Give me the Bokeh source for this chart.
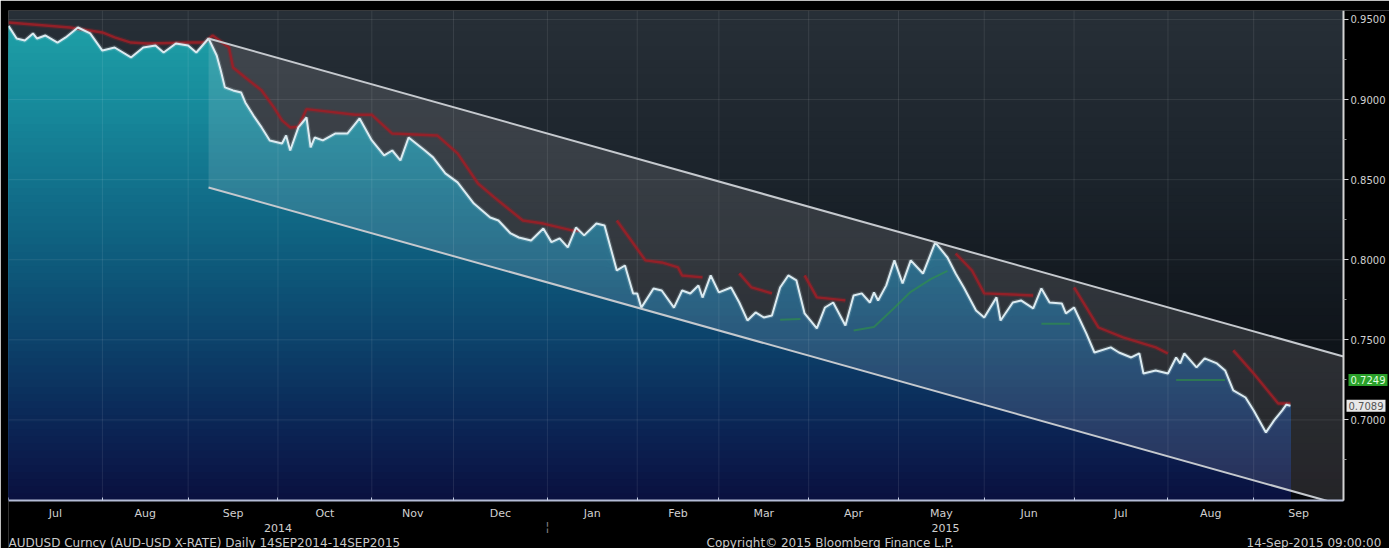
import numpy as np
from bokeh.plotting import figure
from bokeh.models import Range1d, FixedTicker, NumeralTickFormatter, Label
from bokeh.embed import file_html
from bokeh.resources import INLINE

ORIGIN = "2014-07-01"

# ---------------- data ----------------
price_dates = [
    "2014-07-01", "2014-07-03", "2014-07-07", "2014-07-09", "2014-07-10", "2014-07-14", "2014-07-17",
    "2014-07-21", "2014-07-24", "2014-07-29", "2014-08-01", "2014-08-06", "2014-08-12", "2014-08-15",
    "2014-08-20", "2014-08-22", "2014-08-27", "2014-09-01", "2014-09-03", "2014-09-08", "2014-09-10",
    "2014-09-11", "2014-09-12", "2014-09-16", "2014-09-18", "2014-09-19", "2014-09-23", "2014-09-25",
    "2014-09-29", "2014-10-02", "2014-10-03", "2014-10-06", "2014-10-08", "2014-10-10", "2014-10-13",
    "2014-10-14", "2014-10-16", "2014-10-21", "2014-10-24", "2014-10-29", "2014-11-03", "2014-11-06",
    "2014-11-10", "2014-11-12", "2014-11-14", "2014-11-20", "2014-11-24", "2014-11-27", "2014-12-02",
    "2014-12-08", "2014-12-10", "2014-12-12", "2014-12-16", "2014-12-19", "2014-12-23", "2014-12-26",
    "2014-12-31", "2015-01-02", "2015-01-06", "2015-01-08", "2015-01-12", "2015-01-14", "2015-01-19",
    "2015-01-21", "2015-01-26", "2015-01-28", "2015-01-30", "2015-02-02", "2015-02-03", "2015-02-06",
    "2015-02-10", "2015-02-13", "2015-02-17", "2015-02-19", "2015-02-23", "2015-02-24", "2015-02-26",
    "2015-03-02", "2015-03-05", "2015-03-09", "2015-03-11", "2015-03-13", "2015-03-17", "2015-03-19",
    "2015-03-23", "2015-03-25", "2015-03-27", "2015-03-31", "2015-04-03", "2015-04-07", "2015-04-09",
    "2015-04-14", "2015-04-16", "2015-04-20", "2015-04-22", "2015-04-23", "2015-04-24", "2015-04-28",
    "2015-04-30", "2015-05-04", "2015-05-06", "2015-05-11", "2015-05-14", "2015-05-19", "2015-05-21",
    "2015-05-25", "2015-05-28", "2015-06-01", "2015-06-04", "2015-06-05", "2015-06-10", "2015-06-12",
    "2015-06-17", "2015-06-19", "2015-06-23", "2015-06-26", "2015-06-29", "2015-07-01", "2015-07-06",
    "2015-07-08", "2015-07-14", "2015-07-16", "2015-07-21", "2015-07-23", "2015-07-24", "2015-07-29",
    "2015-08-03", "2015-08-05", "2015-08-06", "2015-08-07", "2015-08-12", "2015-08-14", "2015-08-19",
    "2015-08-21", "2015-08-25", "2015-08-28", "2015-09-01", "2015-09-04", "2015-09-08", "2015-09-10",
    "2015-09-11", "2015-09-14",
]
price_values = [
    0.9460, 0.9381, 0.9369, 0.9413, 0.9381, 0.9400, 0.9356,
    0.9388, 0.9450, 0.9413, 0.9306, 0.9325, 0.9263, 0.9325,
    0.9338, 0.9294, 0.9350, 0.9338, 0.9294, 0.9381, 0.9275,
    0.9182, 0.9076, 0.9057, 0.9044, 0.8982, 0.8900, 0.8826,
    0.8745, 0.8726, 0.8776, 0.8682, 0.8826, 0.8888, 0.8701,
    0.8763, 0.8745, 0.8788, 0.8788, 0.8882, 0.8745, 0.8651,
    0.8682, 0.8620, 0.8763, 0.8682, 0.8639, 0.8539, 0.8483,
    0.8351, 0.8308, 0.8264, 0.8245, 0.8164, 0.8139, 0.8120,
    0.8195, 0.8110, 0.8133, 0.8077, 0.8201, 0.8152, 0.8226,
    0.8214, 0.7933, 0.7964, 0.7789, 0.7789, 0.7701, 0.7820,
    0.7808, 0.7701, 0.7808, 0.7789, 0.7839, 0.7764, 0.7902,
    0.7796, 0.7827, 0.7733, 0.7621, 0.7671, 0.7640, 0.7652,
    0.7827, 0.7902, 0.7871, 0.7665, 0.7571, 0.7702, 0.7733,
    0.7590, 0.7777, 0.7790, 0.7733, 0.7796, 0.7746, 0.7840,
    0.7996, 0.7852, 0.7996, 0.7914, 0.8108, 0.8014, 0.7914,
    0.7827, 0.7683, 0.7640, 0.7765, 0.7621, 0.7733, 0.7746,
    0.7696, 0.7821, 0.7733, 0.7727, 0.7665, 0.7702, 0.7540,
    0.7421, 0.7453, 0.7421, 0.7390, 0.7415, 0.7290, 0.7309,
    0.7290, 0.7390, 0.7353, 0.7415, 0.7328, 0.7384, 0.7353,
    0.7309, 0.7184, 0.7140, 0.7059, 0.6922, 0.6997, 0.7060,
    0.7095, 0.7089,
]

# trailing-stop style signal: red above price (down-trend), green below price (up-trend); None = gap
red_dates = [
    "2014-07-01", "2014-07-22", "2014-08-01", "2014-08-06", "2014-08-12", "2014-08-18", "2014-09-02",
    "2014-09-05", "2014-09-09", "2014-09-15", "2014-09-16", "2014-09-19", "2014-09-25", "2014-09-30",
    "2014-10-02", "2014-10-06", "2014-10-08", "2014-10-10", "2014-10-28", "2014-11-03", "2014-11-10",
    "2014-11-25", "2014-12-02", "2014-12-09", "2014-12-15", "2014-12-24", "2014-12-31", "2015-01-09",
    "2015-01-13", "2015-01-20",
    "2015-01-26", "2015-01-29", "2015-02-04", "2015-02-10", "2015-02-16", "2015-02-17", "2015-02-24",
    "2015-03-02",
    "2015-03-09", "2015-03-12", "2015-03-19", "2015-03-25",
    "2015-03-31", "2015-04-03", "2015-04-14", "2015-05-01",
    "2015-05-21", "2015-05-27", "2015-06-01", "2015-06-17", "2015-06-24",
    "2015-07-01", "2015-07-06", "2015-07-09", "2015-07-17", "2015-07-29", "2015-08-03", "2015-08-12",
    "2015-08-25", "2015-09-01", "2015-09-07", "2015-09-09", "2015-09-14",
]
red_values = [
    0.9481, 0.9450, 0.9419, 0.9388, 0.9356, 0.9350, 0.9356,
    0.9356, 0.9400, 0.9325, 0.9200, 0.9138, 0.9057, 0.8951,
    0.8870, 0.8826, 0.8830, 0.8940, 0.8905, 0.8905, 0.8788,
    0.8776, 0.8664, 0.8476, 0.8389, 0.8245, 0.8226, 0.8183,
    0.8183, None,
    0.8245, 0.8139, 0.7996, 0.7983, 0.7952, 0.7902, 0.7890,
    None,
    0.7915, 0.7827, 0.7790, None,
    0.7902, 0.7765, 0.7746, None,
    0.8039, 0.7933, 0.7790, 0.7777, None,
    0.7827, 0.7702, 0.7577, 0.7515, 0.7453, 0.7415, None,
    0.7434, 0.7290, 0.7165, 0.7103, 0.7103,
]
green_dates = [
    "2015-03-23", "2015-03-30", "2015-04-08",
    "2015-04-16", "2015-04-23", "2015-04-30", "2015-05-06", "2015-05-13", "2015-05-19", "2015-06-05",
    "2015-06-19", "2015-06-30", "2015-07-15",
    "2015-08-05", "2015-08-21",
]
green_values = [
    0.7625, 0.7630, None,
    0.7558, 0.7580, 0.7700, 0.7800, 0.7880, 0.7930, None,
    0.7600, 0.7600, None,
    0.7250, 0.7249,
]

month_starts = ["2014-07-01", "2014-08-01", "2014-09-01", "2014-10-01", "2014-11-01", "2014-12-01",
                "2015-01-01", "2015-02-01", "2015-03-01", "2015-04-01", "2015-05-01", "2015-06-01",
                "2015-07-01", "2015-08-01", "2015-09-01", "2015-10-01"]
month_names = ["Jul", "Aug", "Sep", "Oct", "Nov", "Dec", "Jan", "Feb", "Mar", "Apr", "May", "Jun",
               "Jul", "Aug", "Sep"]
year_names = ["2014", "2015"]
year_starts = ["2014-07-01", "2015-01-01", "2015-10-01"]
y_ticks = [0.70, 0.75, 0.80, 0.85, 0.90, 0.95]
y_limits = [0.6497, 0.9556]

channel_anchor_dates = ["2014-09-08", "2015-05-14"]
channel_upper_values = [0.9381, 0.8110]
channel_lower_start = 0.8451
channel_end_date = "2015-10-01"

last_price = 0.7089
last_signal = 0.7249

FOOT_LEFT = "AUDUSD Curncy (AUD-USD X-RATE)  Daily 14SEP2014-14SEP2015"
FOOT_MID = "Copyright\u00a9 2015 Bloomberg Finance L.P."
FOOT_RIGHT = "14-Sep-2015 09:00:00"

# ---------------- layout (pixels) ----------------
W, H = 1389, 548
LEFT, TOP = 8, 10
PLOT_W, PLOT_H = 1335, 490          # chart area inside the frame
FONT = "DejaVu Sans"
FS = "11px"
FS_AX = "10px"
FS_FOOT = "12px"


# ---------------- helpers ----------------
def bd(dates):
    return np.busday_count(ORIGIN, np.array(dates, dtype="datetime64[D]")).astype(float)


def nanify(vals):
    return np.array([np.nan if v is None else v for v in vals], dtype=float)


def hex2rgb(h):
    h = h.lstrip("#")
    return np.array([int(h[i:i + 2], 16) for i in (0, 2, 4)], dtype=float)


def grad(stops, v):
    vs = [s[0] for s in stops]
    cs = [hex2rgb(s[1]) for s in stops]
    rgb = [np.interp(v, vs, [c[k] for c in cs]) for k in range(3)]
    return "#%02x%02x%02x" % tuple(int(round(c)) for c in rgb)


px = bd(price_dates)
py = np.array(price_values)
rx, ry = bd(red_dates), nanify(red_values)
gx, gy = bd(green_dates), nanify(green_values)
mb = bd(month_starts)
mids = (mb[:-1] + mb[1:]) / 2
yb = bd(year_starts)
ymin, ymax = y_limits
x0, x1 = mb[0], mb[-1]

# frame spans to the canvas edges; axes are pinned inside it
frame_w, frame_h = W - LEFT, H - TOP
x_end = x0 + (x1 - x0) * frame_w / PLOT_W
y_start = ymax - (ymax - ymin) * frame_h / PLOT_H

p = figure(width=W, height=H, output_backend="svg", toolbar_location=None,
           x_range=Range1d(x0, x_end), y_range=Range1d(y_start, ymax),
           y_axis_location="right", x_axis_location="below",
           min_border_left=LEFT, min_border_top=TOP, min_border_bottom=0, min_border_right=0,
           background_fill_color="#000000", border_fill_color="#000000",
           outline_line_color=None)
p.grid.visible = False

# background gradient (stacked, top first)
bg_stops = [(ymin, "#05060a"), (0.75, "#0f141a"), (0.85, "#1b232b"), (ymax, "#272f37")]
levels = np.linspace(ymax, ymin, 70)
p.quad(left=x0, right=x1, bottom=ymin, top=levels,
       color=[grad(bg_stops, l) for l in levels], line_color=None)

# area under the price with vertical gradient (stacked layers)
area_stops = [(ymin, "#0a0f3e"), (0.70, "#0b2656"), (0.75, "#0c416a"), (0.80, "#0e5a7b"),
              (0.85, "#12728c"), (0.90, "#178b9c"), (ymax, "#1fa2a8")]
for l in levels:
    p.varea(x=px, y1=ymin, y2=np.minimum(py, l), fill_color=grad(area_stops, l))

# regression channel
cx = bd(channel_anchor_dates)
slope = (channel_upper_values[1] - channel_upper_values[0]) / (cx[1] - cx[0])
xe = bd([channel_end_date])[0]
up_s = channel_upper_values[0]
up_e = up_s + slope * (xe - cx[0])
lo_s = channel_lower_start
lo_e = lo_s + slope * (xe - cx[0])
p.patch(x=[cx[0], xe, xe, cx[0]], y=[up_s, up_e, lo_e, lo_s],
        fill_color="#f4f0f0", fill_alpha=0.13, line_color=None)

# grid lines (month starts / 0.05 steps)
p.segment(x0=mb, y0=ymin, x1=mb, y1=ymax, line_color="#ffffff", line_alpha=0.09, line_width=1)
p.segment(x0=x0, y0=y_ticks, x1=x1, y1=y_ticks, line_color="#ffffff", line_alpha=0.09, line_width=1)

# signal lines (soft glow + core)
p.line(rx, ry, line_color="#9b1f27", line_width=5, line_alpha=0.25)
p.line(rx, ry, line_color="#9b1f27", line_width=2.4, line_alpha=0.9)
p.line(gx, gy, line_color="#2f9a3c", line_width=2, line_alpha=0.55)

# price (soft glow + core)
p.line(px, py, line_color="#cfe8f0", line_width=4.5, line_alpha=0.18)
p.line(px, py, line_color="#dcebf1", line_width=2)

# channel borders
p.line([cx[0], xe], [up_s, up_e], line_color="#c5c9ce", line_width=2)
p.line([cx[0], xe], [lo_s, lo_e], line_color="#c5c9ce", line_width=2)

# black strip below the chart area (hides channel overflow)
p.quad(left=x0, right=x_end, bottom=y_start, top=ymin, color="#000000", line_color=None)

# right axis pinned at the end of the date range
yax = p.yaxis[0]
minor = [t - 0.025 for t in y_ticks] + [y_ticks[-1] + 0.025]
yax.ticker = FixedTicker(ticks=y_ticks, minor_ticks=minor)
yax.formatter = NumeralTickFormatter(format="0.0000")
yax.fixed_location = x1
yax.bounds = (ymin, ymax)
yax.axis_line_color = "#d4d4d4"
yax.axis_line_width = 2
yax.major_tick_line_color = "#d4d4d4"
yax.minor_tick_line_color = "#9a9a9a"
yax.major_tick_out = 5
yax.major_tick_in = 0
yax.minor_tick_out = 3
yax.minor_tick_in = 0
yax.major_label_standoff = 2
yax.major_label_text_color = "#d0d0d0"
yax.major_label_text_font = FONT
yax.major_label_text_font_size = FS_AX

# bottom axis: month labels centred in months, ticks at month starts
xax = p.xaxis[0]
xax.ticker = FixedTicker(ticks=list(mids), minor_ticks=list(mb))
xax.major_label_overrides = {float(m): n for m, n in zip(mids, month_names)}
xax.fixed_location = ymin
xax.bounds = (x0, x1)
xax.major_tick_line_color = None
xax.major_tick_out = 0
xax.major_tick_in = 0
xax.minor_tick_line_color = "#c8d0e8"
xax.minor_tick_in = 3
xax.minor_tick_out = 0
xax.axis_line_color = "#b4bcd6"
xax.axis_line_width = 2
xax.major_label_standoff = 6
xax.major_label_text_color = "#d0d0d0"
xax.major_label_text_font = FONT
xax.major_label_text_font_size = FS

# year labels and separator (screen y measured up from the canvas bottom)
for i, name in enumerate(year_names):
    p.add_layout(Label(x=(yb[i] + yb[i + 1]) / 2, y=21, y_units="screen", text=name,
                       text_align="center", text_baseline="middle", text_color="#d0d0d0",
                       text_font=FONT, text_font_size=FS))
p.add_layout(Label(x=yb[1], y=22, y_units="screen", text="\u00a6", text_align="center",
                   text_baseline="middle", text_color="#808080", text_font=FONT,
                   text_font_size="13px"))

# footer
for xs, txt in [(0, FOOT_LEFT), (698, FOOT_MID), (1238, FOOT_RIGHT)]:
    p.add_layout(Label(x=xs, y=6, x_units="screen", y_units="screen", text=txt,
                       text_align="left", text_baseline="middle", text_color="#c8c8c8",
                       text_font=FONT, text_font_size=FS_FOOT))

# last value tags on the right axis
p.add_layout(Label(x=x1, y=last_signal, x_offset=5, text="%.4f" % last_signal,
                   text_baseline="middle", text_color="#dfffdf", text_font=FONT,
                   text_font_size=FS_AX, background_fill_color="#2a9f2a", padding=2))
p.add_layout(Label(x=x1, y=last_price, x_offset=3, text="%.4f" % last_price,
                   text_baseline="middle", text_color="#555555", text_font=FONT,
                   text_font_size=FS_AX, background_fill_color="#e8e8e8", padding=2))

open("out.html", "w").write(file_html(p, INLINE))
